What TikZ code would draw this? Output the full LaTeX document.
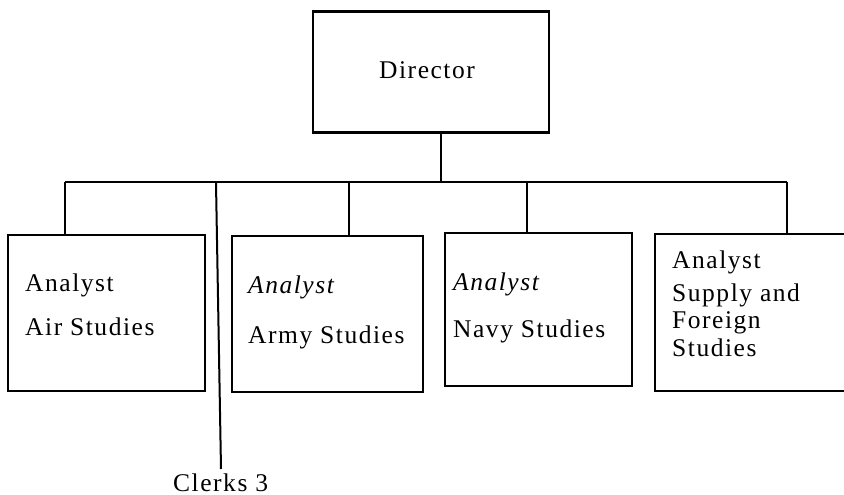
\documentclass[tikz,border=0pt]{standalone}
\usepackage{fontspec}
\setmainfont{Liberation Serif}[LetterSpace=6]
\begin{document}
\begin{tikzpicture}[x=1pt,y=-1pt,
  orgbox/.style={draw, line width=2.2pt, inner sep=0pt},
  conn/.style={line width=2pt},
  lbl/.style={anchor=base west, inner sep=0pt, font=\fontsize{25.5}{30}\selectfont}]
\useasboundingbox (0,0) rectangle (844,495);
% boxes
\node[orgbox, minimum width=236pt, minimum height=121pt] (director) at (431,72) {};
\node[orgbox, minimum width=197pt, minimum height=156pt] (air) at (106.5,313) {};
\node[orgbox, minimum width=191pt, minimum height=156pt] (army) at (327.5,314) {};
\node[orgbox, minimum width=187pt, minimum height=153pt] (navy) at (538.5,309.5) {};
\node[orgbox, minimum width=205pt, minimum height=157pt] (supply) at (757.5,312.5) {};
% texts
\node[anchor=center, inner sep=0pt, font=\fontsize{25.5}{30}\selectfont] (dirtext) at (427,70) {Director};
\node[lbl] (air1) at (25,291) {Analyst};
\node[lbl] (air2) at (25,335) {Air Studies};
\node[lbl] (army1) at (248,293) {\itshape Analyst};
\node[lbl] (army2) at (248,343) {Army Studies};
\node[lbl] (navy1) at (453,290) {\itshape Analyst};
\node[lbl] (navy2) at (453,337) {Navy Studies};
\node[lbl] (sup1) at (672,268) {Analyst};
\node[lbl] (sup2) at (672,301) {Supply and};
\node[lbl] (sup3) at (672,328) {Foreign};
\node[lbl] (sup4) at (672,356) {Studies};
\node[lbl] (clerks) at (173,491) {Clerks 3};
% connectors
\coordinate (bus) at (441,182);
\coordinate (busL) at (65,182);
\coordinate (busR) at (787,182);
\coordinate (dArmy) at (349,182);
\coordinate (dNavy) at (527,182);
\coordinate (cTop) at (216,183);
\coordinate (cBot) at (221,469);
\draw[conn] (director.south -| bus) -- (bus);
\draw[conn] (busL) -- (busR);
\draw[conn] (busL) -- (air.north -| busL);
\draw[conn] (dArmy) -- (army.north -| dArmy);
\draw[conn] (dNavy) -- (navy.north -| dNavy);
\draw[conn] (busR) -- (supply.north -| busR);
\draw[conn] (cTop) -- (cBot);
\end{tikzpicture}
\end{document}
